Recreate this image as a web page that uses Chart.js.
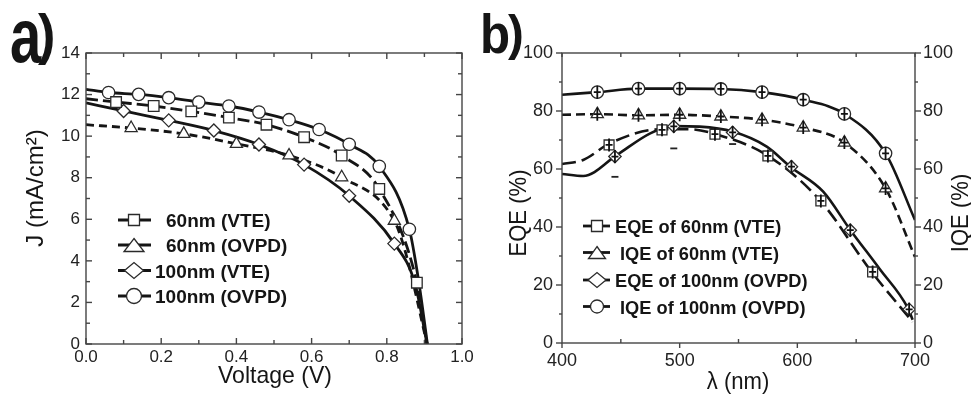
<!DOCTYPE html>
<html><head><meta charset="utf-8">
<script src="https://cdn.jsdelivr.net/npm/chart.js@4"></script>
<style>
html,body{margin:0;padding:0;background:#fff;width:971px;height:399px;overflow:hidden}
#ca{position:absolute;left:0;top:0}
#cb{position:absolute;left:480px;top:0}
</style></head><body>
<canvas id="ca" width="480" height="399"></canvas>
<canvas id="cb" width="491" height="399"></canvas>
<script>
// ---------- Panel a: J-V data ----------
const voltTicks = [0, 0.2, 0.4, 0.6, 0.8, 1.0];
const voltTickLabels = ['0.0', '0.2', '0.4', '0.6', '0.8', '1.0'];
const jTicks = [0, 2, 4, 6, 8, 10, 12, 14];
const jTickLabels = ['0', '2', '4', '6', '8', '10', '12', '14'];
const legendA = ['60nm (VTE)', '60nm (OVPD)', '100nm (VTE)', '100nm (OVPD)'];

// 60nm (VTE) - squares, long dash
const vte60V = [0.08, 0.18, 0.28, 0.38, 0.48, 0.58, 0.68, 0.78, 0.88];
const vte60J = [11.64, 11.45, 11.19, 10.89, 10.55, 9.95, 9.07, 7.46, 2.95];
const vte60LineV = [0, 0.08, 0.18, 0.28, 0.38, 0.48, 0.58, 0.68, 0.78, 0.88, 0.907];
const vte60LineJ = [11.8, 11.64, 11.45, 11.19, 10.89, 10.55, 9.95, 9.07, 7.46, 2.95, 0];
// 60nm (OVPD) - triangles, short dash
const ovpd60V = [0.12, 0.26, 0.40, 0.54, 0.68, 0.82];
const ovpd60J = [10.39, 10.11, 9.63, 9.07, 8.02, 5.93];
const ovpd60LineV = [0, 0.12, 0.26, 0.40, 0.54, 0.68, 0.82, 0.85, 0.907];
const ovpd60LineJ = [10.55, 10.39, 10.11, 9.63, 9.07, 8.02, 5.93, 4.4, 0];
// 100nm (VTE) - diamonds, solid
const vte100V = [0.10, 0.22, 0.34, 0.46, 0.58, 0.70, 0.82];
const vte100J = [11.21, 10.76, 10.27, 9.60, 8.63, 7.13, 4.83];
const vte100LineV = [0, 0.10, 0.22, 0.34, 0.46, 0.58, 0.70, 0.82, 0.875, 0.907];
const vte100LineJ = [11.6, 11.21, 10.76, 10.27, 9.60, 8.63, 7.13, 4.83, 2.9, 0];
// 100nm (OVPD) - circles, solid
const ovpd100V = [0.06, 0.14, 0.22, 0.30, 0.38, 0.46, 0.54, 0.62, 0.70, 0.78, 0.86];
const ovpd100J = [12.1, 12.01, 11.85, 11.64, 11.45, 11.16, 10.79, 10.32, 9.61, 8.55, 5.52];
const ovpd100LineV = [0, 0.06, 0.14, 0.22, 0.30, 0.38, 0.46, 0.54, 0.62, 0.70, 0.78, 0.86, 0.885, 0.908];
const ovpd100LineJ = [12.25, 12.1, 12.01, 11.85, 11.64, 11.45, 11.16, 10.79, 10.32, 9.61, 8.55, 5.52, 3.0, 0];

// ---------- Panel b: EQE / IQE data ----------
const lamTicks = [400, 500, 600, 700];
const lamTickLabels = ['400', '500', '600', '700'];
const pctTicks = [0, 20, 40, 60, 80, 100];
const pctTickLabels = ['0', '20', '40', '60', '80', '100'];
const legendB = ['EQE of 60nm (VTE)', 'IQE of 60nm (VTE)', 'EQE of 100nm (OVPD)', 'IQE of 100nm (OVPD)'];

// EQE of 60nm (VTE) - squares, long dash
const eqe60Lam = [440, 485, 530, 575, 620, 664];
const eqe60Val = [68.3, 73.5, 72.0, 64.5, 49.0, 24.5];
const eqe60LineLam = [400, 418, 441, 483, 509, 528, 574, 619, 663, 698];
const eqe60LineVal = [61.7, 63.1, 68.9, 73.7, 73.7, 72.3, 64.8, 49.3, 24.6, 7.3];
// IQE of 60nm (VTE) - triangles, short dash
const iqe60Lam = [430, 465, 500, 535, 570, 605, 640, 675];
const iqe60Val = [78.9, 78.5, 78.7, 78.1, 77.0, 74.3, 69.1, 53.3];
const iqe60LineLam = [400, 430, 465, 500, 535, 570, 605, 640, 675, 700];
const iqe60LineVal = [78.7, 78.9, 78.5, 78.7, 78.1, 77.0, 74.3, 69.1, 53.3, 29.7];
// EQE of 100nm (OVPD) - diamonds, solid
const eqe100Lam = [445, 495, 545, 595, 645, 695];
const eqe100Val = [64.3, 74.7, 72.6, 60.8, 38.9, 11.6];
const eqe100LineLam = [400, 418, 446.5, 475, 494, 517, 545, 574, 594, 622, 645, 670, 694, 698];
const eqe100LineVal = [58.3, 57.6, 64.8, 72.3, 74.8, 74.6, 72.9, 67.7, 60.8, 52.2, 39.0, 25.5, 12.0, 8.0];
// IQE of 100nm (OVPD) - circles, solid
const iqe100Lam = [430, 465, 500, 535, 570, 605, 640, 675];
const iqe100Val = [86.5, 87.7, 87.7, 87.6, 86.5, 83.9, 79.0, 65.4];
const iqe100LineLam = [400, 430, 465, 500, 535, 570, 605, 640, 675, 700];
const iqe100LineVal = [85.6, 86.5, 87.7, 87.7, 87.6, 86.5, 83.9, 79.0, 65.4, 42.4];
// lower error-bar caps
const errLam = [445, 495, 545];
const errVal = [57.3, 67.1, 68.6];

// ---------- helpers ----------
const F = '"Liberation Sans", Arial, Helvetica, sans-serif';
const INK = '#151515';
const pts = (xs, ys) => xs.map((x, i) => ({x: x, y: ys[i]}));
const mid = arr => arr.slice(1).map((v, i) => (v + arr[i]) / 2);

function lineDS(xs, ys, dash, w, axis) {
  return {data: pts(xs, ys), showLine: true, pointRadius: 0, pointHoverRadius: 0,
    borderColor: INK, borderWidth: w, borderDash: dash, cubicInterpolationMode: 'monotone',
    fill: false, yAxisID: axis || 'y', order: 2};
}
function markDS(xs, ys, style, r, axis, cross) {
  return {data: pts(xs, ys), showLine: false, pointStyle: style, pointRadius: r, pointHoverRadius: r,
    pointBorderWidth: 1.3, pointBorderColor: '#2a2a2a', pointBackgroundColor: '#fff',
    yAxisID: axis || 'y', order: 0, cross: !!cross};
}
function xAxis(min, max, ticks, labels, h, pad, size) {
  return {type: 'linear', position: 'bottom', min: min, max: max,
    grid: {display: false, drawTicks: false}, border: {display: false},
    afterBuildTicks: s => { s.ticks = ticks.map(v => ({value: v})); },
    afterFit: s => { s.height = h; },
    ticks: {autoSkip: false, maxRotation: 0, padding: pad, color: '#222',
      font: {family: F, size: size}, callback: (v, i) => labels[i]}};
}
function yAxis(min, max, ticks, labels, w, pad, size, pos) {
  return {type: 'linear', position: pos, min: min, max: max,
    grid: {display: false, drawTicks: false}, border: {display: false},
    afterBuildTicks: s => { s.ticks = ticks.map(v => ({value: v})); },
    afterFit: s => { s.width = w; },
    ticks: {autoSkip: false, padding: pad, color: '#222',
      font: {family: F, size: size}, callback: (v, i) => labels[i]}};
}
function framePlugin(cfg) {
  return {id: 'frame', afterDraw(chart) {
    const ctx = chart.ctx, a = chart.chartArea, xs = chart.scales.x, ys = chart.scales.y;
    ctx.save();
    ctx.strokeStyle = '#454545'; ctx.lineWidth = 1.4;
    ctx.strokeRect(a.left, a.top, a.right - a.left, a.bottom - a.top);
    const seg = (x1, y1, x2, y2) => { ctx.beginPath(); ctx.moveTo(x1, y1); ctx.lineTo(x2, y2); ctx.stroke(); };
    [[cfg.xMaj, 'maj'], [mid(cfg.xMaj), 'min']].forEach(([vals, k]) => vals.forEach(v => {
      const p = xs.getPixelForValue(v);
      if (cfg.bottom[k]) seg(p, a.bottom, p, a.bottom - cfg.bottom[k]);
      if (cfg.top[k]) seg(p, a.top, p, a.top + cfg.top[k]);
    }));
    [[cfg.yMaj, 'maj'], [mid(cfg.yMaj), 'min']].forEach(([vals, k]) => vals.forEach(v => {
      const p = ys.getPixelForValue(v);
      if (cfg.left[k]) seg(a.left, p, a.left + cfg.left[k], p);
      if (cfg.right[k]) seg(a.right, p, a.right - cfg.right[k], p);
    }));
    ctx.restore();
  }};
}
const crossPlugin = {id: 'cross', afterDatasetsDraw(chart) {
  const ctx = chart.ctx;
  chart.data.datasets.forEach((ds, i) => {
    if (!ds.cross) return;
    const meta = chart.getDatasetMeta(i);
    ctx.save(); ctx.strokeStyle = '#111'; ctx.lineWidth = 1.8;
    meta.data.forEach(p => {
      ctx.beginPath();
      ctx.moveTo(p.x, p.y - 6.5); ctx.lineTo(p.x, p.y + 6.5);
      ctx.moveTo(p.x - 3.5, p.y); ctx.lineTo(p.x + 3.5, p.y);
      ctx.stroke();
    });
    ctx.restore();
  });
}};
function drawShape(ctx, s) {
  ctx.save();
  ctx.fillStyle = '#fff'; ctx.strokeStyle = '#2a2a2a'; ctx.lineWidth = 1.3;
  ctx.beginPath();
  const x = s.x, y = s.y, w = s.w / 2, h = s.h / 2;
  if (s.k === 'circle') ctx.arc(x, y, w, 0, Math.PI * 2);
  else if (s.k === 'rect') ctx.rect(x - w, y - h, 2 * w, 2 * h);
  else if (s.k === 'tri') { ctx.moveTo(x, y - h); ctx.lineTo(x + w, y + h); ctx.lineTo(x - w, y + h); ctx.closePath(); }
  else if (s.k === 'dia') { ctx.moveTo(x - w, y); ctx.lineTo(x, y - h); ctx.lineTo(x + w, y); ctx.lineTo(x, y + h); ctx.closePath(); }
  ctx.fill(); ctx.stroke();
  ctx.restore();
}
function legendPlugin(cfg) {
  return {id: 'lgd', afterDraw(chart) {
    const ctx = chart.ctx;
    cfg.rows.forEach((y, i) => {
      ctx.save();
      ctx.strokeStyle = INK; ctx.lineWidth = cfg.lw;
      ctx.beginPath(); ctx.moveTo(cfg.x0, y); ctx.lineTo(cfg.x1, y); ctx.stroke();
      const sh = cfg.shapes[i];
      drawShape(ctx, {k: sh[0], x: cfg.mx, y: y, w: sh[1], h: sh[2]});
      ctx.fillStyle = INK; ctx.font = cfg.font; ctx.textBaseline = 'alphabetic'; ctx.textAlign = 'left';
      ctx.translate(cfg.tx[i], y + cfg.dy); ctx.scale(cfg.sx, 1);
      ctx.fillText(cfg.labels[i], 0, 0);
      ctx.restore();
    });
  }};
}
function textPlugin(items) {
  return {id: 'txt', afterDraw(chart) {
    const ctx = chart.ctx;
    items.forEach(it => {
      ctx.save();
      ctx.fillStyle = it.color || INK; ctx.font = it.font;
      ctx.textAlign = it.align || 'left'; ctx.textBaseline = 'alphabetic';
      ctx.translate(it.x, it.y);
      if (it.rot) ctx.rotate(it.rot);
      ctx.scale(it.sx || 1, it.sy || 1);
      ctx.fillText(it.t, 0, 0);
      ctx.restore();
    });
  }};
}

// ---------- Chart a ----------
new Chart(document.getElementById('ca'), {
  type: 'scatter',
  data: {datasets: [
    lineDS(vte60LineV, vte60LineJ, [12, 5], 2.8),
    lineDS(ovpd60LineV, ovpd60LineJ, [8, 5], 2.8),
    lineDS(vte100LineV, vte100LineJ, [], 2.8),
    lineDS(ovpd100LineV, ovpd100LineJ, [], 2.8),
    markDS(vte60V, vte60J, 'rect', 7.5),
    markDS(ovpd60V, ovpd60J, 'triangle', 7),
    markDS(vte100V, vte100J, 'rectRot', 6.5),
    markDS(ovpd100V, ovpd100J, 'circle', 6.2)
  ]},
  options: {
    responsive: false, animation: false, devicePixelRatio: 1, events: [],
    layout: {padding: {left: 0, right: 18, top: 53, bottom: 0}},
    plugins: {legend: {display: false}, tooltip: {enabled: false}},
    scales: {
      x: xAxis(0, 1, voltTicks, voltTickLabels, 55, 3, 17),
      y: yAxis(0, 14, jTicks, jTickLabels, 86, 6, 17, 'left')
    }
  },
  plugins: [
    framePlugin({xMaj: voltTicks, yMaj: jTicks,
      bottom: {maj: 6, min: 4}, top: {maj: 6, min: 4}, left: {maj: 6, min: 4}, right: {maj: 6, min: 4}}),
    legendPlugin({rows: [220, 245, 270.5, 296], x0: 118, x1: 151, mx: 134, lw: 2.8,
      shapes: [['rect', 11, 11], ['tri', 20, 13], ['dia', 19, 16], ['circle', 15, 15]],
      tx: [166, 166, 155, 155], dy: 7, font: 'bold 19px ' + F, sx: 1, labels: legendA}),
    textPlugin([
      {t: 'a', x: 10, y: 62, font: 'bold 52px ' + F, sx: 1.08, sy: 1.45},
      {t: ')', x: 38, y: 53, font: 'bold 55px ' + F, sx: 0.95},
      {t: 'J (mA/cm²)', x: 43, y: 188, font: '24px ' + F, align: 'center', rot: -Math.PI / 2},
      {t: 'Voltage (V)', x: 275, y: 383, font: '24px ' + F, align: 'center', sx: 0.96}
    ])
  ]
});

// ---------- Chart b ----------
new Chart(document.getElementById('cb'), {
  type: 'scatter',
  data: {datasets: [
    lineDS(iqe100LineLam, iqe100LineVal, [], 2.6, 'y2'),
    lineDS(iqe60LineLam, iqe60LineVal, [9, 5], 2.6, 'y2'),
    lineDS(eqe60LineLam, eqe60LineVal, [14, 6], 2.6, 'y'),
    lineDS(eqe100LineLam, eqe100LineVal, [], 2.6, 'y'),
    markDS(eqe60Lam, eqe60Val, 'rect', 7, 'y', true),
    markDS(iqe60Lam, iqe60Val, 'triangle', 7, 'y2', true),
    markDS(eqe100Lam, eqe100Val, 'rectRot', 6.2, 'y', true),
    markDS(iqe100Lam, iqe100Val, 'circle', 6.2, 'y2', true),
    {data: pts(errLam, errVal), showLine: false, pointStyle: 'line', pointRadius: 3.5,
      pointBorderWidth: 1.8, pointBorderColor: '#222', yAxisID: 'y', order: 0}
  ]},
  options: {
    responsive: false, animation: false, devicePixelRatio: 1, events: [],
    layout: {padding: {left: 0, right: 0, top: 53, bottom: 0}},
    plugins: {legend: {display: false}, tooltip: {enabled: false}},
    scales: {
      x: xAxis(400, 700, lamTicks, lamTickLabels, 56, 7, 18),
      y: yAxis(0, 100, pctTicks, pctTickLabels, 82, 9, 18, 'left'),
      y2: yAxis(0, 100, pctTicks, pctTickLabels, 56, 8, 18, 'right')
    }
  },
  plugins: [
    crossPlugin,
    framePlugin({xMaj: lamTicks, yMaj: pctTicks,
      bottom: {maj: -5, min: 4}, top: {maj: 4, min: 4}, left: {maj: -6, min: -3}, right: {maj: -6, min: -3}}),
    legendPlugin({rows: [226, 252.5, 280, 306.5], x0: 103, x1: 130, mx: 117, lw: 2.8,
      shapes: [['rect', 11, 11], ['tri', 17, 12], ['dia', 18, 15], ['circle', 13, 13]],
      tx: [135, 140, 135, 140], dy: 7, font: 'bold 19px ' + F, sx: 0.96, labels: legendB}),
    textPlugin([
      {t: 'b', x: 0, y: 53, font: 'bold 56px ' + F, sx: 0.88},
      {t: ')', x: 28, y: 49.5, font: 'bold 50px ' + F, sx: 0.95},
      {t: 'EQE (%)', x: 45.5, y: 213, font: '24px ' + F, align: 'center', rot: -Math.PI / 2, sx: 0.92},
      {t: 'IQE (%)', x: 488, y: 213, font: '24px ' + F, align: 'center', rot: -Math.PI / 2, sx: 0.92},
      {t: 'λ (nm)', x: 258, y: 389, font: '24px ' + F, align: 'center', sx: 0.92}
    ])
  ]
});
</script>
</body></html>
